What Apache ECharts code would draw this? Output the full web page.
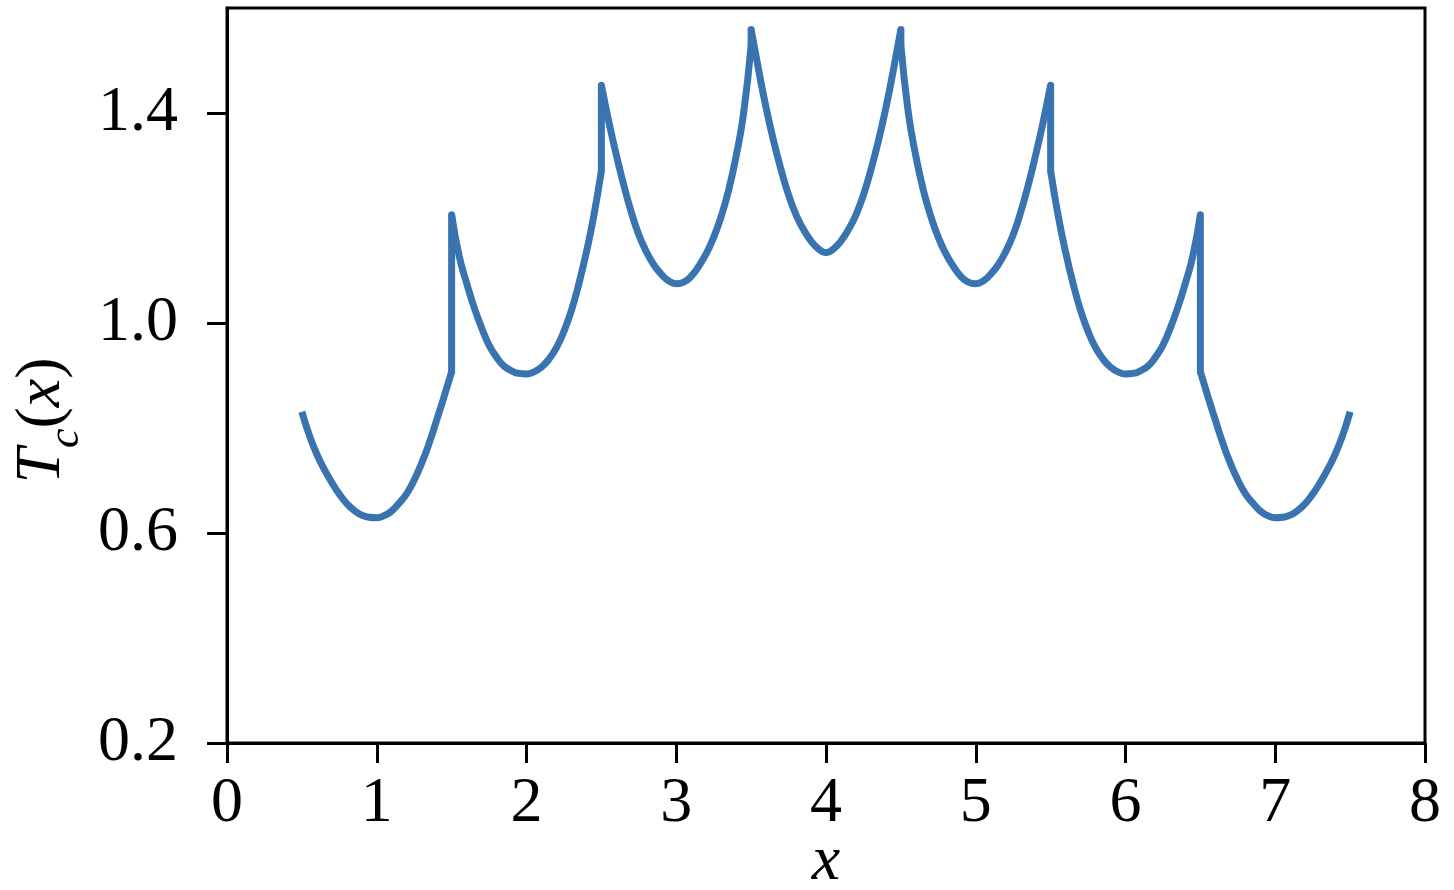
<!DOCTYPE html>
<html>
<head>
<meta charset="utf-8">
<script src="https://cdn.jsdelivr.net/npm/echarts@6/dist/echarts.min.js"></script>
<style>
  html, body { margin: 0; padding: 0; background: #fff; }
  #chart { width: 1454px; height: 890px; }
</style>
</head>
<body>
<div id="chart"></div>
<script>
// each branch spans one unit of x, read every 0.05 starting from its left end
const segStarts = [0.5, 1.5, 2.5, 3.5, 4.5, 5.5, 6.5];
const segStep = 0.05;

const seg1 = [0.831, 0.786, 0.750, 0.721, 0.696, 0.674, 0.656, 0.643, 0.634, 0.630, 0.629,
              0.633, 0.642, 0.657, 0.675, 0.701, 0.733, 0.771, 0.815, 0.860, 0.907];
const seg2 = [1.206, 1.128, 1.076, 1.030, 0.991, 0.958, 0.935, 0.918, 0.909, 0.904, 0.903,
              0.907, 0.916, 0.931, 0.953, 0.984, 1.024, 1.075, 1.135, 1.205, 1.290];
const seg3 = [1.453, 1.383, 1.320, 1.262, 1.211, 1.168, 1.136, 1.111, 1.093, 1.080, 1.075,
              1.078, 1.089, 1.108, 1.132, 1.163, 1.203, 1.253, 1.318, 1.400, 1.530];
const seg4 = [1.559, 1.482, 1.410, 1.347, 1.292, 1.244, 1.206, 1.178, 1.156, 1.141, 1.134,
              1.141, 1.156, 1.178, 1.206, 1.244, 1.292, 1.347, 1.410, 1.482, 1.559];
const seg5 = [1.530, 1.400, 1.318, 1.253, 1.203, 1.163, 1.132, 1.108, 1.089, 1.078, 1.075,
              1.080, 1.093, 1.111, 1.136, 1.168, 1.211, 1.262, 1.320, 1.383, 1.453];
const seg6 = [1.290, 1.205, 1.135, 1.075, 1.024, 0.984, 0.953, 0.931, 0.916, 0.907, 0.903,
              0.904, 0.909, 0.918, 0.935, 0.958, 0.991, 1.030, 1.076, 1.128, 1.206];
const seg7 = [0.907, 0.860, 0.815, 0.771, 0.733, 0.701, 0.675, 0.657, 0.642, 0.633, 0.629,
              0.630, 0.634, 0.643, 0.656, 0.674, 0.696, 0.721, 0.750, 0.786, 0.831];

const yTicks = [0.2, 0.6, 1.0, 1.4];

const segments = [seg1, seg2, seg3, seg4, seg5, seg6, seg7];
const lineColor = '#3a74b0';
const serif = 'Liberation Serif';

const series = [];
segments.forEach((vals, k) => {
  series.push({
    type: 'line',
    data: vals.map((v, i) => [+(segStarts[k] + i * segStep).toFixed(2), v]),
    smooth: true,
    showSymbol: false,
    lineStyle: { color: lineColor, width: 7, join: 'round' }
  });
  // vertical step between neighbouring branches
  if (k < segments.length - 1) {
    const xj = segStarts[k + 1];
    series.push({
      type: 'line',
      data: [[xj, vals[vals.length - 1]], [xj, segments[k + 1][0]]],
      showSymbol: false,
      lineStyle: { color: lineColor, width: 7, cap: 'round', join: 'round' }
    });
  }
});

const chart = echarts.init(document.getElementById('chart'));
chart.setOption({
  animation: false,
  grid: {
    left: 227, right: 29, top: 8, bottom: 147,
    outerBoundsMode: 'none',
    containLabel: false,
    show: true, borderColor: '#000', borderWidth: 3
  },
  xAxis: {
    type: 'value',
    min: 0, max: 8, interval: 1,
    name: 'x',
    nameLocation: 'middle',
    nameGap: 87,
    nameMoveOverlap: false,
    nameTextStyle: { fontFamily: serif, fontStyle: 'italic', fontSize: 64, color: '#000' },
    axisLine: { lineStyle: { color: '#000', width: 3 } },
    axisTick: { length: 20, lineStyle: { color: '#000', width: 3 } },
    axisLabel: { fontFamily: serif, fontSize: 64, color: '#000', margin: 29 },
    splitLine: { show: false }
  },
  yAxis: {
    type: 'value',
    min: 0.2, max: 1.6,
    name: '{i|T}{s|c}{n|(}{i|x}{n|)}',
    nameLocation: 'middle',
    nameGap: 153,
    nameMoveOverlap: false,
    nameTextStyle: {
      padding: [0, 90, 0, 0],
      rich: {
        i: { fontFamily: serif, fontStyle: 'italic', fontSize: 64, lineHeight: 64, verticalAlign: 'top', color: '#000' },
        s: { fontFamily: serif, fontStyle: 'italic', fontSize: 44, lineHeight: 44, padding: [34, 0, 0, 0], verticalAlign: 'top', color: '#000' },
        n: { fontFamily: serif, fontSize: 64, lineHeight: 64, verticalAlign: 'top', color: '#000' }
      }
    },
    axisLine: { show: true, lineStyle: { color: '#000', width: 3 } },
    axisTick: { show: true, length: 20, customValues: yTicks, lineStyle: { color: '#000', width: 3 } },
    axisLabel: {
      fontFamily: serif, fontSize: 64, color: '#000', margin: 49,
      customValues: yTicks,
      formatter: v => v.toFixed(1)
    },
    splitLine: { show: false }
  },
  series: series
});
</script>
</body>
</html>
